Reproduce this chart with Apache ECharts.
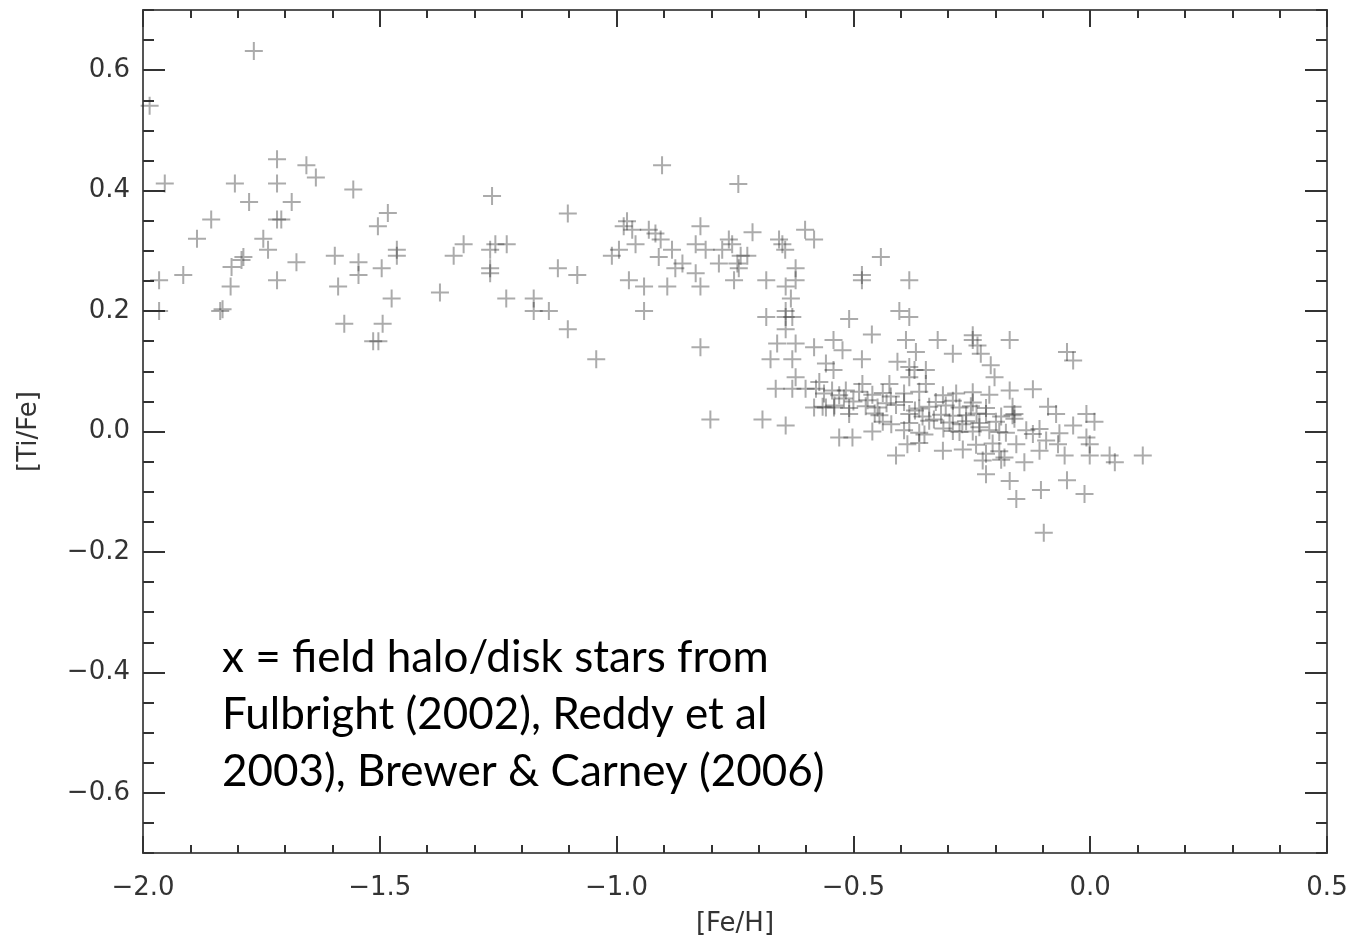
<!DOCTYPE html>
<html>
<head>
<meta charset="utf-8">
<script src="https://cdn.jsdelivr.net/npm/echarts@6/dist/echarts.min.js"></script>
<style>
html,body{margin:0;padding:0;background:#fff;}
#chart{width:1353px;height:941px;}
</style>
</head>
<body>
<div id="chart"></div>
<script>
// [Fe/H] values (x)
const feH = [
-1.766,-1.986,-1.954,-1.717,-1.655,-1.635,-1.806,-1.717,-1.556,-1.776,-1.686,-1.856,-1.717,-1.708,-1.483,-1.504,
-1.886,-1.746,-1.736,-1.788,-1.792,-1.813,-1.676,-1.595,-1.545,-1.545,-1.496,-1.464,-1.464,-1.966,-1.915,-1.815,
-1.717,-1.588,-1.475,-1.966,-1.837,-1.832,-1.575,-1.494,-1.514,-1.503,
-0.904,-1.263,-1.103,-1.323,-1.344,-1.256,-1.232,-1.267,-1.267,-1.267,-1.373,-1.233,-1.175,-1.175,-1.143,-1.124,
-1.083,-1.103,-1.043,-0.978,-0.985,-0.967,-0.932,-0.918,-0.907,-0.960,-0.883,-0.995,-1.010,-0.911,-0.861,-0.876,
-0.833,-0.974,-0.942,-0.893,-0.823,-0.942,-0.823,-0.823,-0.833,-0.812,
-0.743,-0.713,-0.657,-0.650,-0.644,-0.602,-0.583,-0.763,-0.756,-0.777,-0.738,-0.724,-0.745,-0.742,-0.784,-0.752,
-0.684,-0.622,-0.622,-0.643,-0.632,-0.643,-0.629,-0.643,-0.684,-0.643,-0.442,-0.482,-0.482,-0.382,-0.403,-0.382,
-0.509,-0.461,-0.802,-0.692,-0.643,-0.661,-0.622,-0.583,-0.675,-0.629,-0.542,-0.542,-0.558,-0.523,-0.482,-0.622,
-0.664,-0.629,-0.601,-0.572,-0.579,-0.583,-0.558,-0.541,-0.509,-0.530,-0.502,-0.545,-0.516,-0.407,-0.382,-0.368,-0.389,
-0.322,-0.248,-0.248,-0.238,-0.170,-0.290,-0.231,-0.371,-0.382,-0.210,-0.202,-0.347,-0.347,-0.170,
-0.562,-0.530,-0.488,-0.460,-0.438,-0.421,-0.393,-0.361,-0.311,-0.283,-0.248,-0.213,
-0.565,-0.540,-0.509,-0.474,-0.449,-0.410,-0.361,-0.340,-0.305,-0.276,-0.252,-0.220,-0.164,
-0.445,-0.382,-0.354,-0.315,-0.290,-0.262,-0.220,-0.188,-0.164,
-0.438,-0.382,-0.340,-0.297,-0.262,-0.234,-0.199,
-0.460,-0.393,-0.361,-0.290,-0.276,-0.248,-0.213,-0.178,
-0.386,-0.361,-0.241,-0.206,-0.311,-0.269,-0.192,-0.410,-0.227,-0.188,-0.220,-0.170,-0.156,
-0.481,-0.424,-0.393,-0.326,-0.290,-0.248,
-0.520,-0.470,-0.430,-0.370,-0.330,-0.310,-0.270,-0.240,-0.350,-0.420,-0.500,-0.455,
-0.049,-0.036,-0.121,-0.089,-0.072,-0.160,-0.160,-0.036,-0.008,0.009,-0.008,-0.001,-0.107,-0.054,-0.001,0.041,0.052,
0.111,-0.139,-0.049,-0.104,-0.012,-0.098,-0.234,-0.192,-0.156,-0.121,-0.093,-0.068,-0.065,-0.220,-0.181,-0.107,-0.135
];
// [Ti/Fe] values (y)
const tiFe = [
0.632,0.541,0.412,0.452,0.442,0.422,0.412,0.412,0.402,0.381,0.381,0.352,0.352,0.352,0.363,0.341,
0.320,0.320,0.302,0.290,0.285,0.273,0.281,0.292,0.281,0.260,0.271,0.302,0.292,0.251,0.260,0.241,
0.251,0.241,0.221,0.200,0.200,0.203,0.179,0.179,0.150,0.150,
0.442,0.391,0.362,0.311,0.292,0.311,0.311,0.302,0.271,0.263,0.231,0.221,0.221,0.200,0.200,0.271,
0.260,0.170,0.120,0.349,0.341,0.335,0.335,0.329,0.319,0.311,0.302,0.302,0.292,0.290,0.279,0.271,
0.263,0.251,0.241,0.241,0.241,0.200,0.140,0.341,0.311,0.302,
0.411,0.331,0.319,0.311,0.302,0.335,0.319,0.319,0.311,0.302,0.292,0.292,0.279,0.271,0.279,0.251,
0.251,0.271,0.251,0.241,0.221,0.200,0.190,0.190,0.190,0.170,0.290,0.260,0.251,0.251,0.200,0.190,
0.187,0.161,0.020,0.020,0.010,0.146,0.146,0.140,0.120,0.120,0.152,0.102,0.113,0.135,0.120,0.090,
0.071,0.071,0.071,0.082,0.071,0.040,0.040,0.040,0.029,-0.010,-0.010,0.068,0.068,0.116,0.107,0.132,0.152,
0.152,0.160,0.152,0.143,0.152,0.129,0.129,0.102,0.090,0.110,0.090,0.102,0.079,0.068,
0.063,0.060,0.066,0.061,0.064,0.058,0.063,0.066,0.060,0.063,0.065,0.061,
0.041,0.043,0.039,0.042,0.040,0.044,0.038,0.041,0.043,0.040,0.042,0.039,0.041,
0.027,0.029,0.025,0.028,0.026,0.027,0.029,0.025,0.027,
0.016,0.014,0.018,0.015,0.017,0.014,0.016,
0.000,0.002,-0.002,0.001,-0.001,0.000,0.002,-0.002,
-0.021,-0.019,-0.022,-0.020,-0.032,-0.030,-0.033,-0.040,-0.048,-0.047,-0.071,-0.082,-0.112,
0.079,0.079,0.049,0.049,0.051,0.048,
0.055,0.052,0.047,0.035,0.020,0.005,0.012,0.030,-0.005,0.012,0.050,0.030,
0.132,0.118,0.070,0.041,0.029,0.029,0.021,0.010,0.029,0.016,-0.010,-0.021,-0.032,-0.040,-0.040,-0.040,-0.051,
-0.040,-0.051,-0.081,-0.097,-0.104,-0.168,0.007,-0.001,-0.021,-0.004,-0.015,-0.021,-0.003,-0.037,-0.043,0.004,0.002
];
// Tick labels
const yMajorTicks = [-0.6, -0.4, -0.2, 0.0, 0.2, 0.4, 0.6];
const xTicks = [-2.0, -1.5, -1.0, -0.5, 0.0, 0.5];
const noteLines = ['x = field halo/disk stars from', 'Fulbright (2002), Reddy et al', '2003), Brewer & Carney (2006)'];

const points = feH.map((x, i) => [x, tiFe[i]]);
const fmt = v => (v < 0 ? '\u2212' : '') + Math.abs(v).toFixed(1);
const axisCol = '#555';
const labelFont = { fontFamily: 'DejaVu Sans', fontSize: 26, color: '#333' };

const chart = echarts.init(document.getElementById('chart'), null, { renderer: 'canvas' });
const yBase = (pos) => ({
  type: 'value', position: pos, min: -0.7, max: 0.7,
  splitLine: { show: false },
  axisLine: { show: true, onZero: false, lineStyle: { color: axisCol, width: 2 } }
});
const xBase = (pos) => ({
  type: 'value', position: pos, min: -2.0, max: 0.5, interval: 0.5,
  splitLine: { show: false },
  axisLine: { show: true, onZero: false, lineStyle: { color: axisCol, width: 2 } },
  axisTick: { show: true, inside: true, length: 17, lineStyle: { color: '#333', width: 2 } },
  minorTick: { show: true, splitNumber: 5, length: 8, lineStyle: { color: '#333', width: 2 } }
});

chart.setOption({
  animation: false,
  backgroundColor: '#fff',
  grid: { left: 143, right: 26, top: 10, bottom: 88, containLabel: false, outerBoundsMode: 'none' },
  xAxis: [
    Object.assign(xBase('bottom'), {
      name: '[Fe/H]', nameLocation: 'middle', nameGap: 58,
      nameTextStyle: labelFont,
      axisLabel: Object.assign({ margin: 22, formatter: fmt, customValues: xTicks }, labelFont)
    }),
    Object.assign(xBase('top'), { axisLabel: { show: false } })
  ],
  yAxis: [
    Object.assign(yBase('left'), {
      name: '[Ti/Fe]', nameLocation: 'middle', nameGap: 101,
      nameTextStyle: labelFont,
      axisTick: { show: true, inside: true, length: 22, customValues: yMajorTicks, lineStyle: { color: '#333', width: 2 } },
      axisLabel: Object.assign({ margin: 13, formatter: fmt, customValues: yMajorTicks }, labelFont)
    }),
    Object.assign(yBase('left'), {
      interval: 0.05,
      axisTick: { show: true, inside: true, length: 11, lineStyle: { color: '#333', width: 2 } },
      axisLabel: { show: false }
    }),
    Object.assign(yBase('right'), {
      axisTick: { show: true, inside: true, length: 22, customValues: yMajorTicks, lineStyle: { color: '#333', width: 2 } },
      axisLabel: { show: false, customValues: yMajorTicks }
    }),
    Object.assign(yBase('right'), {
      interval: 0.05,
      axisTick: { show: true, inside: true, length: 11, lineStyle: { color: '#333', width: 2 } },
      axisLabel: { show: false }
    })
  ],
  series: [{
    type: 'scatter',
    xAxisIndex: 0, yAxisIndex: 0,
    data: points,
    symbol: 'path://M-1,-9L1,-9L1,-1L9,-1L9,1L1,1L1,9L-1,9L-1,1L-9,1L-9,-1L-1,-1Z',
    symbolSize: 18,
    itemStyle: { color: 'rgba(45,45,45,0.5)' },
    emphasis: { disabled: true }
  }],
  graphic: [{
    type: 'text', left: 222, top: 629,
    style: { text: noteLines.join('\n'), font: '44px Lato', lineHeight: 57, fill: '#000' }
  }]
});
</script>
</body>
</html>
